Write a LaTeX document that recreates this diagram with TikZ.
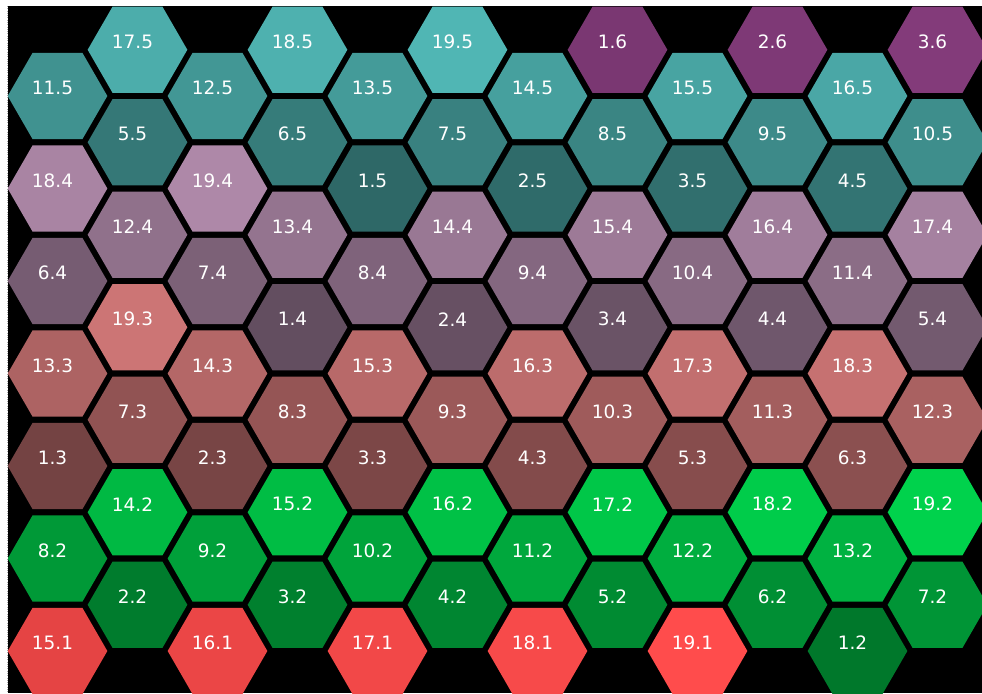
\documentclass[tikz,border=0pt]{standalone}
\usepackage{fontspec}
\setmainfont{DejaVu Sans}
\usepackage{tikz}
\usetikzlibrary{shapes.geometric}
\definecolor{grp1}{HTML}{FF4C4C}
\definecolor{grp2}{HTML}{00D24C}
\definecolor{grp3}{HTML}{CC7575}
\definecolor{grp4}{HTML}{AE88A8}
\definecolor{grp5}{HTML}{50B6B4}
\definecolor{grp6}{HTML}{D660C8}

\begin{document}
\begin{tikzpicture}[x=0.02cm, y=-0.02cm, every node/.style={font=\fontsize{10.5pt}{12pt}\selectfont}, hexcell/.style={regular polygon, regular polygon sides=6, minimum size=1.994cm, inner sep=0pt, outer sep=0pt, draw=none}, celltext/.style={text=white, inner sep=0pt}]
\useasboundingbox (0,0) rectangle (982,693);
\fill[white] (0,0) rectangle (982,693);
\fill[black] (8,6) rectangle (982,693);
\draw[gray!70, densely dotted, line width=0.3pt] (7.5,6) -- (7.5,693);
\begin{scope}
\clip (8,6) rectangle (982,693);
% half rows from the bottom, six cells each
\foreach \h in {0,...,13}{
  \foreach \j in {0,...,5}{
    \pgfmathtruncatemacro\c{2*\j+mod(\h,2)}
    \pgfmathtruncatemacro\k{14+6*\h+\j}
    \pgfmathtruncatemacro\n{mod(\k,19)+1}
    \pgfmathtruncatemacro\g{int(\k/19)+1}
    \pgfmathtruncatemacro\p{57+43*(\n-1)/18}
    \node[hexcell, fill=grp\g!\p!black] (cell-\n-\g) at ({57.5+80*\c},{651-46.25*\h}) {};
    \node[celltext] (text-\n-\g) at ([shift={(-5,-8)}]cell-\n-\g.center) {\n.\g};
  }
}
\end{scope}
\end{tikzpicture}
\end{document}
